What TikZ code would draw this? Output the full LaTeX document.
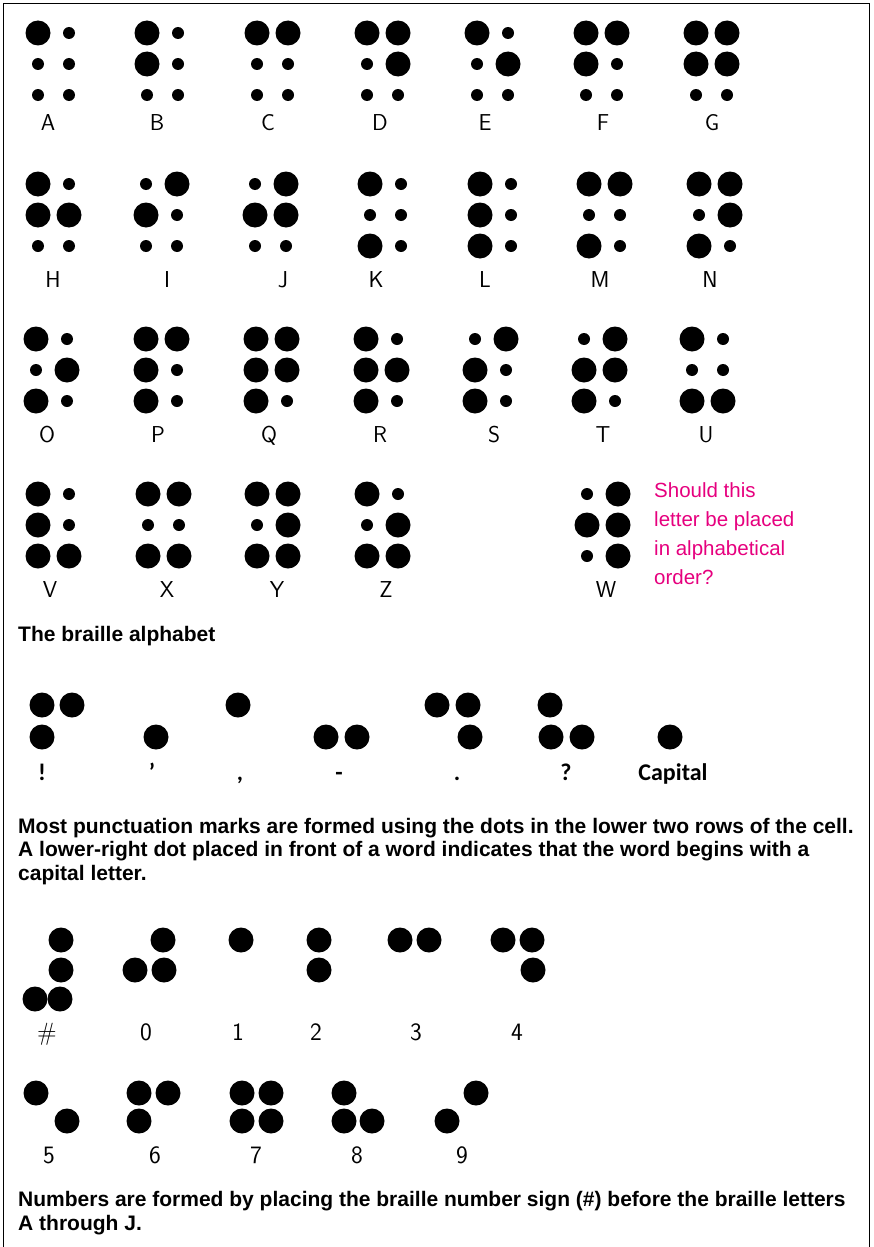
\documentclass[tikz,border=0pt]{standalone}
\usepackage{fontspec}
\usepackage{xcolor}
\newfontfamily\capfont{Liberation Sans}
\newfontfamily\puncfont{Carlito}
\definecolor{askpink}{RGB}{230,0,126}

% one braille cell: left column x, top row y, flags for dots 1..6
\newcommand{\brcell}[3]{%
  \foreach \f [count=\k from 0] in {#3}{%
    \pgfmathsetmacro{\cx}{#1+31*int(\k/3)}%
    \pgfmathsetmacro{\cy}{#2+31*mod(\k,3)}%
    \ifnum\f=1 \fill (\cx,\cy) circle[radius=12.5pt];%
    \else \fill (\cx,\cy) circle[radius=6pt];\fi
  }%
}

\begin{document}
\begin{tikzpicture}[x=1pt, y=-1pt,
  lbl/.style={font=\sffamily\fontsize{23}{23}\selectfont, anchor=base, inner sep=0pt},
  nlbl/.style={font=\sffamily\fontsize{25}{25}\selectfont, anchor=base, inner sep=0pt},
  plbl/.style={font=\puncfont\bfseries\fontsize{24}{24}\selectfont, anchor=base, inner sep=0pt},
  caption/.style={font=\capfont\bfseries\fontsize{21}{23.5}\selectfont, anchor=base west, align=left, inner sep=0pt}]
\useasboundingbox (0,0) rectangle (874,1247);
\draw[line width=1pt] (3.5,1247) -- (3.5,3.5) -- (869.5,3.5) -- (869.5,1247);

% alphabet
\brcell{38}{33}{1,0,0,0,0,0} \node[lbl] (lA) at (48,130) {A};
\brcell{147}{33}{1,1,0,0,0,0} \node[lbl] (lB) at (157,130) {B};
\brcell{257}{33}{1,0,0,1,0,0} \node[lbl] (lC) at (268,130) {C};
\brcell{367}{33}{1,0,0,1,1,0} \node[lbl] (lD) at (380,130) {D};
\brcell{477}{33}{1,0,0,0,1,0} \node[lbl] (lE) at (485,130) {E};
\brcell{586}{33}{1,1,0,1,0,0} \node[lbl] (lF) at (603,130) {F};
\brcell{696}{33}{1,1,0,1,1,0} \node[lbl] (lG) at (712,130) {G};

\brcell{38}{184}{1,1,0,0,1,0} \node[lbl] (lH) at (53,287) {H};
\brcell{146}{184}{0,1,0,1,0,0} \node[lbl] (lI) at (167,287) {I};
\brcell{255}{184}{0,1,0,1,1,0} \node[lbl] (lJ) at (283,287) {J};
\brcell{370}{184}{1,0,1,0,0,0} \node[lbl] (lK) at (376,287) {K};
\brcell{480}{184}{1,1,1,0,0,0} \node[lbl] (lL) at (485,287) {L};
\brcell{589}{184}{1,0,1,1,0,0} \node[lbl] (lM) at (600,287) {M};
\brcell{699}{184}{1,0,1,1,1,0} \node[lbl] (lN) at (710,287) {N};

\brcell{36}{339}{1,0,1,0,1,0} \node[lbl] (lO) at (47,442) {O};
\brcell{146}{339}{1,1,1,1,0,0} \node[lbl] (lP) at (158,442) {P};
\brcell{256}{339}{1,1,1,1,1,0} \node[lbl] (lQ) at (269,442) {Q};
\brcell{366}{339}{1,1,1,0,1,0} \node[lbl] (lR) at (380,442) {R};
\brcell{475}{339}{0,1,1,1,0,0} \node[lbl] (lS) at (494,442) {S};
\brcell{584}{339}{0,1,1,1,1,0} \node[lbl] (lT) at (603,442) {T};
\brcell{692}{339}{1,0,1,0,0,1} \node[lbl] (lU) at (706,442) {U};

\brcell{38}{494}{1,1,1,0,0,1} \node[lbl] (lV) at (50,597) {V};
\brcell{148}{494}{1,0,1,1,0,1} \node[lbl] (lX) at (167,597) {X};
\brcell{257}{494}{1,0,1,1,1,1} \node[lbl] (lY) at (277,597) {Y};
\brcell{367}{494}{1,0,1,0,1,1} \node[lbl] (lZ) at (386,597) {Z};
\brcell{587}{494}{0,1,0,1,1,1} \node[lbl] (lW) at (606,597) {W};

\node[anchor=base west, align=left, inner sep=0pt, text=askpink,
  font=\capfont\fontsize{20.5}{28.7}\selectfont] (ask) at (654,584)
  {Should this\\letter be placed\\in alphabetical\\order?};

\node[caption] (capA) at (18,641) {The braille alphabet};

% punctuation
\foreach \p in {(42,705),(72,705),(42,737), (156,737), (238,705), (326,737),(357,737),
  (437,705),(468,705),(470,737), (550,705),(551,737),(582,737), (670,737)}
  \fill \p circle[radius=12.5pt];
\node[plbl] (pExcl) at (42,780) {!};
\node[plbl] (pApos) at (152,780) {’};
\node[plbl] (pComma) at (240,780) {,};
\node[plbl] (pHyph) at (339,780) {-};
\node[plbl] (pDot) at (457,780) {.};
\node[plbl] (pQues) at (566,780) {?};
\node[plbl] (pCap) at (673,780) {Capital};

\node[caption] (capP) at (18,880) {Most punctuation marks are formed using the dots in the lower two rows of the cell.\\A lower-right dot placed in front of a word indicates that the word begins with a\\capital letter.};

% numbers
\foreach \p in {(61,940),(61,970),(35,999),(60,999), (163,940),(135,970),(164,970),
  (241,940), (319,940),(319,970), (400,940),(429,940), (503,940),(532,940),(533,970),
  (36,1093),(67,1121), (139,1093),(168,1093),(139,1121),
  (242,1093),(271,1093),(242,1121),(271,1121), (344,1093),(344,1121),(372,1121),
  (476,1093),(447,1121)}
  \fill \p circle[radius=12.5pt];
\node[nlbl] (nHash) at (47,1040) {\#};
\node[nlbl] (n0) at (146,1040) {0};
\node[nlbl] (n1) at (238,1040) {1};
\node[nlbl] (n2) at (316,1040) {2};
\node[nlbl] (n3) at (416,1040) {3};
\node[nlbl] (n4) at (517,1040) {4};
\node[nlbl] (n5) at (49,1163) {5};
\node[nlbl] (n6) at (155,1163) {6};
\node[nlbl] (n7) at (256,1163) {7};
\node[nlbl] (n8) at (357,1163) {8};
\node[nlbl] (n9) at (462,1163) {9};

\node[caption] (capN) at (18,1230) {Numbers are formed by placing the braille number sign (\#) before the braille letters\\A through J.};
\end{tikzpicture}
\end{document}
